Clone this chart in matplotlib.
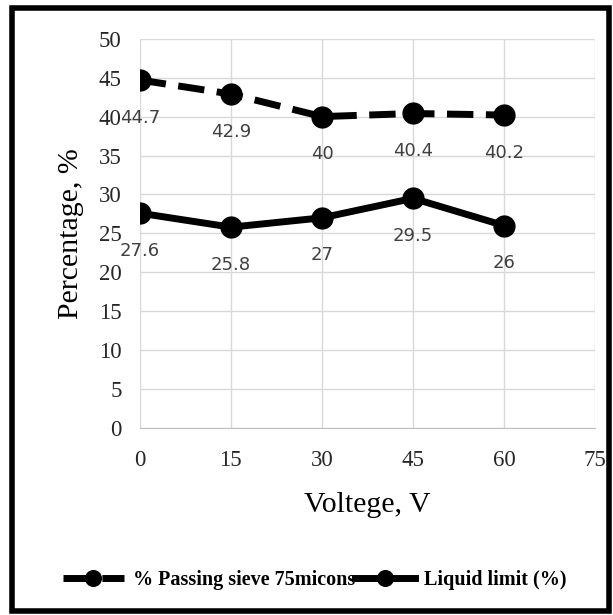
import matplotlib
matplotlib.use("Agg")
import matplotlib.pyplot as plt
from matplotlib.patches import Rectangle

# values
voltage = [0, 15, 30, 45, 60]
passing = [44.7, 42.9, 40, 40.4, 40.2]
liquid = [27.6, 25.8, 27, 29.5, 26]
xticks = [0, 15, 30, 45, 60, 75]
yticks = [0, 5, 10, 15, 20, 25, 30, 35, 40, 45, 50]

serif = "Liberation Serif"

fig = plt.figure(figsize=(6.13, 6.15), dpi=100)
ax = fig.add_axes([0.228, 0.304, 0.743, 0.633])

ax.plot(voltage, passing, color="black", lw=5, ls=(0, (3.8, 1.8)),
        marker="o", ms=15, label="% Passing sieve 75micons")
ax.plot(voltage, liquid, color="black", lw=5,
        marker="o", ms=15, label="Liquid limit (%)")

# data labels under each point
for x, y in zip(voltage, passing):
    ax.annotate(f"{y:g}", (x, y), xytext=(0, -27), textcoords="offset points",
                ha="center", va="center", fontsize=13, color="#404040")
for x, y in zip(voltage, liquid):
    ax.annotate(f"{y:g}", (x, y), xytext=(0, -27), textcoords="offset points",
                ha="center", va="center", fontsize=13, color="#404040")

ax.set_xlim(0, 75)
ax.set_ylim(0, 50)
ax.set_xticks(xticks)
ax.set_yticks(yticks)
ax.grid(True, color="#d9d9d9", lw=1)
ax.set_axisbelow(True)
for s in ["top", "right", "left"]:
    ax.spines[s].set_visible(False)
ax.spines["bottom"].set_color("#bfbfbf")
ax.tick_params(length=0)
ax.tick_params(axis="x", pad=16)
ax.tick_params(axis="y", pad=13)
for lab in ax.get_xticklabels() + ax.get_yticklabels():
    lab.set_fontfamily(serif)
    lab.set_fontsize(16.5)
    lab.set_color("#262626")

ax.set_xlabel("Voltege, V", fontfamily=serif, fontsize=21.5, labelpad=15)
ax.set_ylabel("Percentage, %", fontfamily=serif, fontsize=21.5, labelpad=11)

fig.legend(loc="center", bbox_to_anchor=(0.514, 0.057), ncol=2, frameon=False,
           prop={"family": serif, "weight": "bold", "size": 14.5},
           handlelength=3.0, handletextpad=0.45, columnspacing=0.0,
           markerscale=0.75)

# thick frame round the whole picture
fig.patches.append(Rectangle((12 / 613, 4 / 615), 597 / 613, 603 / 615,
                             transform=fig.transFigure, fill=False,
                             lw=4, edgecolor="black"))

fig.savefig("out.png", dpi=100)
